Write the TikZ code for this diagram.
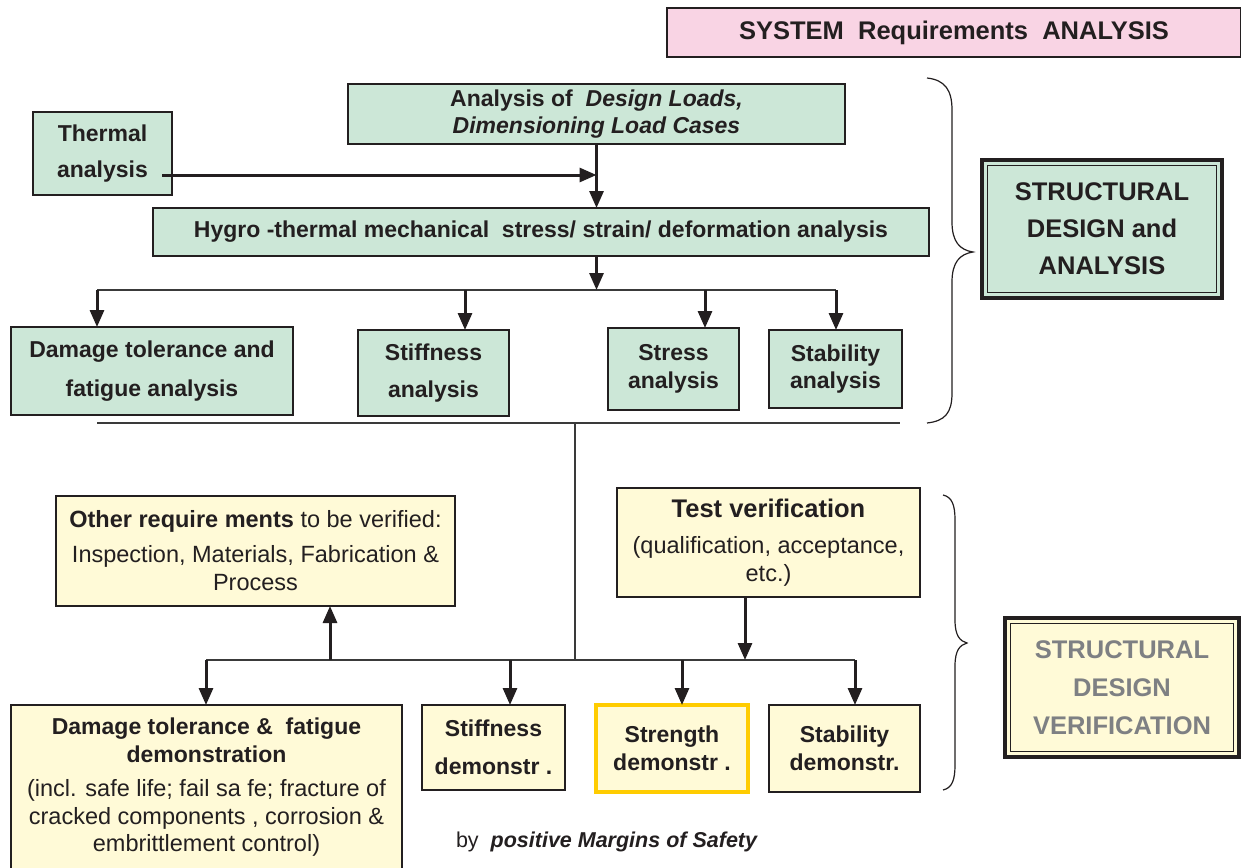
\documentclass[tikz,border=0pt]{standalone}
\usepackage{fontspec}
\setmainfont{Liberation Sans}
\usetikzlibrary{arrows.meta}
\definecolor{ink}{HTML}{231F20}
\definecolor{boxgreen}{HTML}{CCE7D7}
\definecolor{boxyellow}{HTML}{FFFAD7}
\definecolor{boxpink}{HTML}{F9D4E4}
\definecolor{gold}{HTML}{FFCC00}
\definecolor{greytext}{HTML}{7E8083}
\definecolor{busgrey}{HTML}{3A3A3A}
\begin{document}
\begin{tikzpicture}[x=1pt,y=-1pt,
  every node/.style={inner sep=0pt, outer sep=0pt, text=ink},
  basebox/.style={draw=ink, line width=1.3pt, align=center, font=\fontsize{23}{27.5}\selectfont\bfseries},
  gbox/.style={basebox, fill=boxgreen},
  ybox/.style={basebox, fill=boxyellow},
  bigtxt/.style={font=\fontsize{25.5}{31}\selectfont\bfseries},
  regtxt/.style={font=\fontsize{23.5}{28}\selectfont},
  arr/.style={draw=ink, line width=3pt, -{Triangle[length=17pt,width=14pt]}},
  bus/.style={draw=busgrey, line width=1.5pt},
  brace/.style={draw=ink, line width=1.2pt},
  innerline/.style={draw=ink, line width=1.5pt},
]
\clip (0,0) rectangle (1241,867);
\fill[white] (0,0) rectangle (1241,867);

% ---- top part ----
\node[basebox, fill=boxpink, font=\fontsize{25.5}{30}\selectfont\bfseries, minimum width=574pt, minimum height=49pt] (title) at (954,32.5) {SYSTEM\ \ Requirements\ \ ANALYSIS};

\node[gbox, minimum width=497pt, minimum height=60pt] (design) at (596.5,114) {Analysis of\ \ \textit{Design Loads,}\\ \textit{Dimensioning Load Cases}};
\node[gbox, minimum width=139pt, minimum height=83pt] (thermal) at (102.5,153.5) {Thermal\\[8pt] analysis};
\node[gbox, minimum width=776pt, minimum height=48pt] (hygro) at (541,232) {Hygro -thermal mechanical\ \ stress/ strain/ deformation analysis};

\node[gbox, minimum width=282pt, minimum height=88pt] (dmg) at (152,371) {Damage tolerance and\\[12pt] fatigue analysis};
\node[gbox, minimum width=151pt, minimum height=86pt] (stiff) at (433.5,373) {Stiffness\\[9pt] analysis};
\node[gbox, minimum width=131pt, minimum height=82pt] (stress) at (673.5,369) {Stress\\ analysis};
\node[gbox, minimum width=133pt, minimum height=78pt] (stab) at (835.5,369) {Stability\\ analysis};

\node[gbox, bigtxt, line width=4pt, minimum width=240pt, minimum height=138pt] (sda) at (1102,229) {STRUCTURAL\\[6pt] DESIGN and\\[6pt] ANALYSIS};
\draw[innerline] ([shift={(5.5,5.5)}]sda.north west) rectangle ([shift={(-5.5,-5.5)}]sda.south east);

% ---- bottom part ----
\node[ybox, regtxt, minimum width=399pt, minimum height=110pt] (other) at (255.5,551) {\textbf{Other require ments} to be verified:\\[7pt] Inspection, Materials, Fabrication \&\\ Process};
\node[ybox, regtxt, minimum width=303pt, minimum height=109pt] (test) at (768.5,542.5) {{\fontsize{25.5}{30}\selectfont\bfseries Test verification}\\[8pt] (qualification, acceptance,\\ etc.)};

\node[ybox, minimum width=391pt, minimum height=165pt] (dmgdemo) at (206.5,787.5) {Damage tolerance \&\ \ fatigue\\ demonstration\\[7pt] {\mdseries\fontsize{23.5}{28}\selectfont (incl. safe life; fail sa fe; fracture of}\\ {\mdseries\fontsize{23.5}{28}\selectfont cracked components , corrosion \&}\\ {\mdseries\fontsize{23.5}{28}\selectfont embrittlement control)}};
\node[ybox, minimum width=143pt, minimum height=85pt] (stiffdemo) at (493.5,747.5) {Stiffness\\[11pt] demonstr .};
\node[ybox, draw=gold, line width=4pt, minimum width=152pt, minimum height=87pt] (strength) at (672,748.5) {Strength\\ demonstr .};
\node[ybox, minimum width=151pt, minimum height=87pt] (stabdemo) at (844.5,748.5) {Stability\\ demonstr.};

\node[ybox, bigtxt, text=greytext, line width=4pt, minimum width=234pt, minimum height=139pt] (sdv) at (1122,687.5) {STRUCTURAL\\[7pt] DESIGN\\[7pt] VERIFICATION};
\draw[innerline] ([shift={(5.5,5.5)}]sdv.north west) rectangle ([shift={(-5.5,-5.5)}]sdv.south east);

\node[font=\fontsize{21.5}{25}\selectfont] (note) at (607,842) {by\ \ \textbf{\textit{positive Margins of Safety}}};

% ---- connectors ----
\coordinate (thS) at (162,175);
\draw[arr] (thS) -- (thS -| design.south);
\draw[arr] (design.south) -- (design.south |- hygro.north);

\coordinate (busAl) at (97,290);
\coordinate (busAr) at (836,290);
\coordinate (bA2) at (465,290);
\coordinate (bA3) at (705,290);
\draw[bus] (busAl) -- (busAr);
\draw[arr] (design.south |- hygro.south) -- (design.south |- busAl);
\draw[arr] (busAl) -- (busAl |- dmg.north);
\draw[arr] (bA2) -- (bA2 |- stiff.north);
\draw[arr] (bA3) -- (bA3 |- stress.north);
\draw[arr] (busAr) -- (busAr |- stab.north);

\coordinate (busBl) at (97,423);
\coordinate (busBr) at (900,423);
\coordinate (busBm) at (575,423);
\coordinate (busCm) at (575,660);
\coordinate (busCl) at (206,660);
\coordinate (busCr) at (855,660);
\coordinate (bC2) at (510,660);
\coordinate (bC3) at (682,660);
\coordinate (bCup) at (330,660);
\coordinate (tA) at (745,0);
\draw[bus] (busBl) -- (busBr);
\draw[bus] (busBm) -- (busCm);
\draw[bus] (busCl) -- (busCr);
\draw[arr] (bCup) -- (bCup |- other.south);
\draw[arr] (tA |- test.south) -- (tA |- busCl);
\draw[arr] (busCl) -- (busCl |- dmgdemo.north);
\draw[arr] (bC2) -- (bC2 |- stiffdemo.north);
\draw[arr] (bC3) -- (bC3 |- strength.north);
\draw[arr] (busCr) -- (busCr |- stabdemo.north);

% ---- braces ----
\draw[brace] (927,78) .. controls (945,80) and (952,90) .. (952,110) -- (952,222)
  .. controls (952,242) and (960,250) .. (973,252)
  .. controls (960,254) and (952,262) .. (952,282) -- (952,393)
  .. controls (952,413) and (945,421) .. (927,423);
\draw[brace] (943,495) .. controls (952,497) and (955,505) .. (955,520) -- (955,620)
  .. controls (955,636) and (960,641) .. (967,643)
  .. controls (960,645) and (955,650) .. (955,666) -- (955,765)
  .. controls (955,780) and (952,788) .. (943,790);
\end{tikzpicture}
\end{document}
